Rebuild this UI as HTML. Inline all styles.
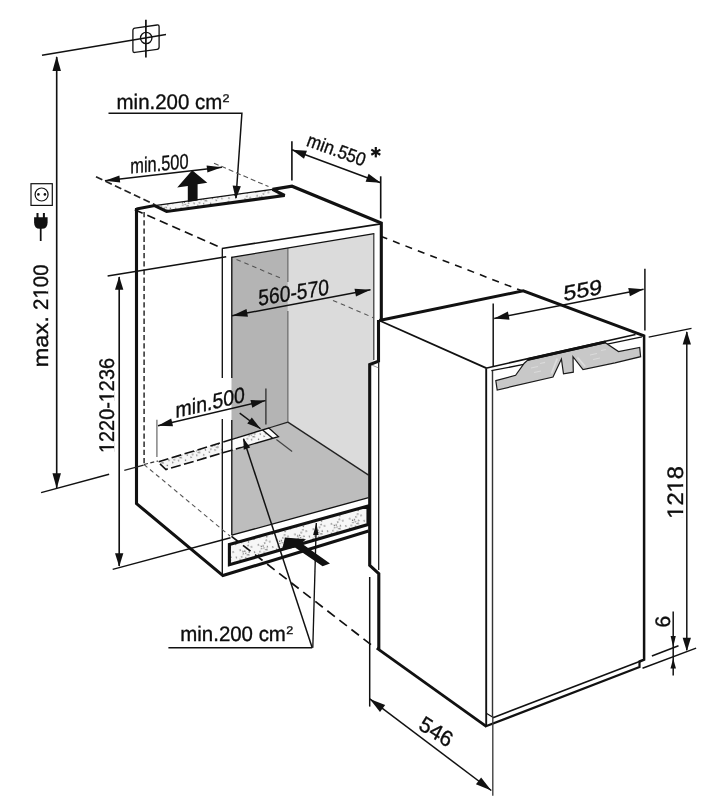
<!DOCTYPE html>
<html><head><meta charset="utf-8"><title>Niche dimensions</title>
<style>html,body{margin:0;padding:0;background:#fff}svg{display:block}text{font-family:"Liberation Sans",sans-serif;fill:#0d0d0d;stroke:#0d0d0d;stroke-width:0.35px;text-rendering:geometricPrecision}svg{will-change:transform;filter:blur(0.45px)}</style>
</head><body>
<svg width="706" height="809" viewBox="0 0 706 809">
<rect width="706" height="809" fill="#fff"/>
<polygon points="231.50,257.40 287.90,248.00 287.90,422.10 231.50,439.30" fill="#b4b4b4" stroke="none" stroke-width="0"/>
<polygon points="287.90,248.00 373.60,233.80 373.60,361.00 368.60,364.50 368.60,475.10 287.90,422.10" fill="#dbdbdb" stroke="none" stroke-width="0"/>
<polygon points="231.80,439.30 287.90,422.10 368.60,475.10 368.60,497.60 231.80,535.20" fill="#bdbdbd" stroke="none" stroke-width="0"/>
<line x1="287.9" y1="248" x2="287.9" y2="282" stroke="#555" stroke-width="1.013" stroke-linecap="butt"/>
<line x1="287.9" y1="311" x2="287.9" y2="422.1" stroke="#555" stroke-width="1.013" stroke-linecap="butt"/>
<line x1="287.9" y1="422.1" x2="368.6" y2="475.1" stroke="#222" stroke-width="1.35" stroke-linecap="butt"/>
<defs><pattern id="st" width="19" height="16" patternUnits="userSpaceOnUse" patternTransform="rotate(-16)"><rect width="19" height="16" fill="#f7f7f7"/><circle cx="0.6" cy="12.2" r="0.68" fill="#505050"/><circle cx="2.9" cy="9.9" r="0.68" fill="#505050"/><circle cx="5.2" cy="7.6" r="0.68" fill="#505050"/><circle cx="7.5" cy="5.3" r="0.68" fill="#505050"/><circle cx="9.8" cy="3.0" r="0.68" fill="#505050"/><circle cx="12.1" cy="0.7" r="0.68" fill="#505050"/><circle cx="6.7" cy="11.9" r="0.68" fill="#505050"/><circle cx="9.0" cy="9.6" r="0.68" fill="#505050"/><circle cx="11.3" cy="7.3" r="0.68" fill="#505050"/><circle cx="3.2" cy="3.0" r="0.68" fill="#505050"/><circle cx="5.5" cy="5.3" r="0.68" fill="#505050"/><circle cx="7.8" cy="7.6" r="0.68" fill="#505050"/><circle cx="10.1" cy="9.9" r="0.68" fill="#505050"/><circle cx="15.0" cy="3.0" r="0.68" fill="#505050"/><circle cx="16.5" cy="9.0" r="0.68" fill="#505050"/><circle cx="13.5" cy="13.5" r="0.68" fill="#505050"/></pattern></defs>
<polygon points="158.00,462.00 268.80,428.00 278.40,436.60 166.00,469.50" fill="url(#st)" stroke="none" stroke-width="0"/>
<polygon points="262.60,429.90 268.80,428.00 278.40,436.60 272.60,438.30" fill="#fdfdfd" stroke="none" stroke-width="0"/>
<polygon points="222.90,442.10 243.10,435.80 249.40,445.30 222.90,453.10" fill="#fcfcfc" stroke="none" stroke-width="0"/>
<path d="M232.81021897810217,439.04379562043795 L158,462 L166,469.5 L240.9333333333333,447.56666666666666" stroke="#111" stroke-width="1.6" fill="none" stroke-linejoin="miter" stroke-linecap="butt" stroke-dasharray="10 3.5"/>
<path d="M232.81021897810217,439.04379562043795 L268.8,428 L278.4,436.6 L240.9333333333333,447.56666666666666" stroke="#111" stroke-width="1.35" fill="none" stroke-linejoin="miter" stroke-linecap="butt"/>
<line x1="262.6" y1="429.9" x2="272.6" y2="438.3" stroke="#111" stroke-width="1.35" stroke-linecap="butt"/>
<line x1="268.8" y1="428" x2="287.9" y2="422.1" stroke="#222" stroke-width="1.282" stroke-linecap="butt"/>
<polygon points="154.60,205.60 272.60,189.40 284.60,195.50 166.60,211.50" fill="url(#st)" stroke="none" stroke-width="0"/>
<line x1="154.6" y1="205.6" x2="272.6" y2="189.4" stroke="#111" stroke-width="1.35" stroke-linecap="butt"/>
<polygon points="229.40,544.40 368.00,506.00 368.00,524.60 229.40,564.80" fill="url(#st)" stroke="#111" stroke-width="3.1"/>
<path d="M136.5,209 L154.6,205.6 L166.6,211.5 L284.6,195.5 L272.6,189.4 L292,186.2 L381.3,223 L381.3,320" stroke="#111" stroke-width="3.1" fill="none" stroke-linejoin="miter" stroke-miterlimit="3"/>
<line x1="380.8" y1="223.8" x2="221.9" y2="248.5" stroke="#111" stroke-width="1.688" stroke-linecap="butt"/>
<path d="M136.5,208 L136.5,503.6 L222.9,575.6 L368.5,531" stroke="#111" stroke-width="3.1" fill="none" stroke-linejoin="miter" stroke-linecap="butt"/>
<line x1="134.8" y1="209.7" x2="218.5" y2="246.7" stroke="#111" stroke-width="1.7" stroke-dasharray="8.6 5.06"/>
<line x1="222.3" y1="248.6" x2="222.3" y2="378" stroke="#111" stroke-width="1.35" stroke-linecap="butt"/>
<line x1="222.3" y1="419" x2="222.3" y2="574.5" stroke="#111" stroke-width="1.35" stroke-linecap="butt"/>
<line x1="231.6" y1="257.4" x2="374.2" y2="233.7" stroke="#111" stroke-width="1.35" stroke-linecap="butt"/>
<line x1="231.8" y1="256.7" x2="231.8" y2="378" stroke="#111" stroke-width="1.35" stroke-linecap="butt"/>
<line x1="231.8" y1="420" x2="231.8" y2="535.2" stroke="#111" stroke-width="1.35" stroke-linecap="butt"/>
<line x1="373.8" y1="233.2" x2="373.8" y2="360" stroke="#333" stroke-width="1.215" stroke-linecap="butt"/>
<line x1="231.8" y1="535.2" x2="368.6" y2="497.6" stroke="#111" stroke-width="1.35" stroke-linecap="butt"/>
<line x1="144.1" y1="212" x2="144.1" y2="464" stroke="#3a3a3a" stroke-width="1.62" stroke-linecap="butt" stroke-dasharray="5.3 2.9"/>
<line x1="236.5" y1="259.5" x2="283" y2="279" stroke="#555" stroke-width="1.08" stroke-linecap="butt" stroke-dasharray="4.6 3.9"/>
<line x1="333" y1="300.4" x2="374" y2="318" stroke="#555" stroke-width="1.08" stroke-linecap="butt" stroke-dasharray="4.6 3.9"/>
<line x1="144" y1="464.5" x2="230" y2="536" stroke="#555" stroke-width="1.08" stroke-linecap="butt" stroke-dasharray="4.4 3.4"/>
<line x1="124.3" y1="470.4" x2="143.6" y2="465.2" stroke="#222" stroke-width="1.282" stroke-linecap="butt"/>
<line x1="144" y1="464.5" x2="158" y2="461" stroke="#333" stroke-width="1.215" stroke-linecap="butt" stroke-dasharray="4 2.5"/>
<line x1="380.6" y1="236.3" x2="522.6" y2="291.1" stroke="#111" stroke-width="1.6" stroke-dasharray="7.1 6.2"/>
<line x1="231.5" y1="536.4" x2="371.6" y2="645.1" stroke="#111" stroke-width="1.7" stroke-dasharray="9.5 5.75" stroke-dashoffset="0.7"/>
<path d="M379.3,320.5 L523.2,290.8 L644.2,335.9" stroke="#111" stroke-width="2.9" fill="none" stroke-linejoin="miter" stroke-linecap="butt"/>
<path d="M644.1,334.8 L644.1,659.7 L639.5,661.5" stroke="#111" stroke-width="2.5" fill="none" stroke-linejoin="miter" stroke-linecap="butt"/>
<path d="M639.5,660.5 L639.5,667 L485.8,726.3" stroke="#111" stroke-width="2.2" fill="none" stroke-linejoin="miter" stroke-linecap="butt"/>
<path d="M486.6,726.6 L376.8,648.2" stroke="#111" stroke-width="2.8" fill="none" stroke-linejoin="miter" stroke-linecap="butt"/>
<path d="M378.5,320 L378.5,361.3 L369.7,364.6 L369.7,565.4 L378.8,573.7 L378.8,649" stroke="#111" stroke-width="3.1" fill="none" stroke-linejoin="miter" stroke-linecap="butt"/>
<line x1="379.3" y1="320.5" x2="486.9" y2="368.4" stroke="#111" stroke-width="1.755" stroke-linecap="butt"/>
<line x1="378.7" y1="362.7" x2="378.7" y2="570" stroke="#111" stroke-width="1.215" stroke-linecap="butt"/>
<line x1="372.2" y1="365.2" x2="378.5" y2="367.9" stroke="#666" stroke-width="0.675" stroke-linecap="butt"/>
<line x1="369.7" y1="577" x2="369.7" y2="706.6" stroke="#111" stroke-width="1.485" stroke-linecap="butt"/>
<line x1="486.2" y1="368.4" x2="486.2" y2="726" stroke="#111" stroke-width="1.89" stroke-linecap="butt"/>
<line x1="492.5" y1="370.5" x2="492.5" y2="716" stroke="#333" stroke-width="1.418" stroke-linecap="butt"/>
<line x1="486.9" y1="367.9" x2="635.5" y2="334.4" stroke="#111" stroke-width="1.5"/>
<line x1="491.4" y1="370.7" x2="525" y2="364.2" stroke="#111" stroke-width="1.282" stroke-linecap="butt"/>
<line x1="606" y1="344.4" x2="642" y2="336.8" stroke="#111" stroke-width="1.282" stroke-linecap="butt"/>
<line x1="639.5" y1="661.5" x2="493" y2="717.7" stroke="#111" stroke-width="1.62" stroke-linecap="butt"/>
<line x1="486.3" y1="713.2" x2="492.9" y2="717.2" stroke="#111" stroke-width="1.215" stroke-linecap="butt"/>
<polygon points="495.80,380.60 515.60,375.30 524.30,363.20 527.50,360.20 605.30,342.70 618.50,351.60 639.70,347.40 640.60,356.70 615.00,362.80 583.00,369.60 573.00,356.70 573.30,372.20 563.50,373.90 561.40,359.00 553.00,377.00 497.20,390.00" fill="#c8c8c8" stroke="#1a1a1a" stroke-width="1.2"/>
<line x1="557.2" y1="358.5" x2="551.5" y2="373.5" stroke="#dcdcdc" stroke-width="1.755" stroke-linecap="butt"/>
<line x1="577.5" y1="357.5" x2="585.2" y2="366.5" stroke="#dcdcdc" stroke-width="1.755" stroke-linecap="butt"/>
<path d="M531,368 L538,366.5 M534,372.5 L541,371 M540,363.5 L545,362.4" stroke="#dadada" stroke-width="1.215" fill="none" stroke-linejoin="miter" stroke-linecap="butt"/>
<path d="M590,355 L597,353.5 M593,359.5 L600,358 M601,350.5 L606,349.5" stroke="#dadada" stroke-width="1.215" fill="none" stroke-linejoin="miter" stroke-linecap="butt"/>
<line x1="527.2" y1="359.6" x2="605.6" y2="341.9" stroke="#111" stroke-width="2.9" stroke-linecap="butt"/>
<line x1="42" y1="55.3" x2="166" y2="34.5" stroke="#111" stroke-width="1.485" stroke-linecap="butt"/>
<line x1="145.9" y1="19.8" x2="145.9" y2="57.6" stroke="#111" stroke-width="1.7" stroke-linecap="butt"/>
<g transform="matrix(1,-0.144,0,1,0,0)"><rect x="132.9" y="47.6" width="26.2" height="24.3" rx="2" ry="2" fill="none" stroke="#111" stroke-width="1.3"/></g>
<circle cx="146.2" cy="38" r="5.7" fill="none" stroke="#111" stroke-width="1.3"/>
<line x1="56.7" y1="57" x2="56.7" y2="488" stroke="#111" stroke-width="1.62" stroke-linecap="butt"/>
<polygon points="56.70,55.90 60.95,71.10 52.45,71.10" fill="#111" stroke="none" stroke-width="0"/>
<polygon points="56.70,488.50 52.45,473.30 60.95,473.30" fill="#111" stroke="none" stroke-width="0"/>
<line x1="41.1" y1="492.6" x2="109.1" y2="474.2" stroke="#111" stroke-width="1.485" stroke-linecap="butt"/>
<rect x="31" y="183.7" width="21.3" height="21.7" fill="none" stroke="#111" stroke-width="1.2"/>
<circle cx="41.6" cy="194.5" r="6.5" fill="none" stroke="#111" stroke-width="1.2"/>
<circle cx="38.4" cy="194.4" r="1.3" fill="#111"/><circle cx="44.9" cy="194.4" r="1.3" fill="#111"/>
<line x1="37.5" y1="213" x2="37.5" y2="218" stroke="#111" stroke-width="2.025" stroke-linecap="butt"/>
<line x1="43.9" y1="213" x2="43.9" y2="218" stroke="#111" stroke-width="2.025" stroke-linecap="butt"/>
<path d="M34.1,217.3 L47.6,217.3 L47.6,222.5 Q47.6,228.8 41.8,228.8 L39.9,228.8 Q34.1,228.8 34.1,222.5 Z" stroke="none" stroke-width="0" fill="#111" stroke-linejoin="miter" stroke-linecap="butt"/>
<line x1="40.7" y1="228" x2="40.7" y2="241" stroke="#111" stroke-width="1.755" stroke-linecap="butt"/>
<text transform="matrix(6.123233995736766e-17,-1.0,1.0,6.123233995736766e-17,48.2,367.6)" font-size="21" font-weight="normal" textLength="51.5" lengthAdjust="spacingAndGlyphs">max.</text>
<text transform="matrix(6.123233995736766e-17,-1.0,1.0,6.123233995736766e-17,48.2,310)" font-size="21" font-weight="normal" textLength="45.6" lengthAdjust="spacingAndGlyphs">2100</text>
<g transform="matrix(6.123233995736766e-17,-1.0,1.0,6.123233995736766e-17,48.2,310)" fill="#fff"><rect x="12.22" y="-2.25" width="4.16" height="2.70"/><rect x="18.54" y="-2.25" width="3.90" height="2.70"/></g>
<text transform="translate(116.6,108.8)" font-size="21" font-weight="normal" textLength="105.6" lengthAdjust="spacingAndGlyphs">min.200 cm</text>
<text transform="translate(222.6,101.7)" font-size="11.2" font-weight="normal" textLength="7" lengthAdjust="spacingAndGlyphs">2</text>
<path d="M108.5,113.3 L241.9,113.3 L236,198" stroke="#111" stroke-width="1.485" fill="none" stroke-linejoin="miter" stroke-linecap="butt"/>
<polygon points="235.80,199.30 232.62,185.54 240.89,186.13" fill="#111" stroke="none" stroke-width="0"/>
<line x1="104.9" y1="180.7" x2="221.9" y2="167.2" stroke="#111" stroke-width="1.485" stroke-linecap="butt"/>
<polygon points="104.90,180.70 119.40,175.50 120.20,182.46" fill="#111" stroke="none" stroke-width="0"/>
<polygon points="221.90,167.20 207.40,172.40 206.60,165.44" fill="#111" stroke="none" stroke-width="0"/>
<text transform="matrix(1.0,-0.09100712926493951,0,1,130.3,173.6)" font-size="21.4" font-weight="normal" textLength="58.2" lengthAdjust="spacingAndGlyphs">min.500</text>
<line x1="96" y1="176.7" x2="154.5" y2="204.5" stroke="#222" stroke-width="1.755" stroke-linecap="butt" stroke-dasharray="7 3.5"/>
<line x1="214" y1="163.2" x2="268.5" y2="186.6" stroke="#555" stroke-width="1.08" stroke-linecap="butt" stroke-dasharray="5 3"/>
<polygon points="192.20,170.20 207.30,182.70 197.60,184.30 197.60,200.60 187.80,202.00 187.80,185.90 177.20,187.60" fill="#111" stroke="none" stroke-width="0"/>
<line x1="291.9" y1="141.2" x2="291.9" y2="180.5" stroke="#111" stroke-width="1.62" stroke-linecap="butt"/>
<line x1="380.7" y1="176.3" x2="380.7" y2="218.5" stroke="#111" stroke-width="1.62" stroke-linecap="butt"/>
<line x1="291.9" y1="149.7" x2="380.7" y2="182.7" stroke="#111" stroke-width="1.485" stroke-linecap="butt"/>
<polygon points="291.90,149.70 306.97,150.77 304.01,158.73" fill="#111" stroke="none" stroke-width="0"/>
<polygon points="380.70,182.70 365.63,181.63 368.59,173.67" fill="#111" stroke="none" stroke-width="0"/>
<text transform="matrix(0.9396926207859084,0.3420201433256687,-0.3420201433256687,0.9396926207859084,305.6,145.6)" font-size="19" font-weight="normal" textLength="61.2" lengthAdjust="spacingAndGlyphs">min.550</text>
<line x1="375.8" y1="147.0" x2="375.8" y2="157.39999999999998" stroke="#111" stroke-width="2.2" stroke-linecap="butt"/>
<line x1="371.2966679003209" y1="149.6" x2="380.3033320996791" y2="154.79999999999998" stroke="#111" stroke-width="2.2" stroke-linecap="butt"/>
<line x1="380.3033320996791" y1="149.6" x2="371.2966679003209" y2="154.79999999999998" stroke="#111" stroke-width="2.2" stroke-linecap="butt"/>
<line x1="119.2" y1="277" x2="119.2" y2="566" stroke="#111" stroke-width="1.62" stroke-linecap="butt"/>
<polygon points="119.20,276.30 123.35,289.80 115.05,289.80" fill="#111" stroke="none" stroke-width="0"/>
<polygon points="119.20,566.80 115.05,553.30 123.35,553.30" fill="#111" stroke="none" stroke-width="0"/>
<line x1="107.6" y1="276" x2="226.2" y2="256.7" stroke="#111" stroke-width="1.485" stroke-linecap="butt"/>
<line x1="112.7" y1="569.4" x2="230.5" y2="537.7" stroke="#111" stroke-width="1.485" stroke-linecap="butt"/>
<text transform="matrix(6.123233995736766e-17,-1.0,1.0,6.123233995736766e-17,113.9,453)" font-size="21.2" font-weight="normal" textLength="95" lengthAdjust="spacingAndGlyphs">1220-1236</text>
<g transform="matrix(6.123233995736766e-17,-1.0,1.0,6.123233995736766e-17,113.9,453)" fill="#fff"><rect x="0.79" y="-2.26" width="4.03" height="2.71"/><rect x="6.91" y="-2.26" width="3.78" height="2.71"/><rect x="51.60" y="-2.26" width="4.03" height="2.71"/><rect x="57.72" y="-2.26" width="3.78" height="2.71"/></g>
<line x1="232" y1="315.8" x2="370.5" y2="289.7" stroke="#111" stroke-width="1.485" stroke-linecap="butt"/>
<polygon points="232.00,315.80 246.49,309.00 247.97,316.86" fill="#111" stroke="none" stroke-width="0"/>
<polygon points="370.50,289.70 356.01,296.50 354.53,288.64" fill="#111" stroke="none" stroke-width="0"/>
<text transform="matrix(1.0,-0.15838444032453627,0,1,258.3,305.8)" font-size="22.4" font-weight="normal" textLength="70.6" lengthAdjust="spacingAndGlyphs">560-570</text>
<line x1="156.9" y1="419.7" x2="156.9" y2="457" stroke="#777" stroke-width="1.35" stroke-linecap="butt"/>
<line x1="265.9" y1="388.4" x2="265.9" y2="424.5" stroke="#333" stroke-width="1.35" stroke-linecap="butt"/>
<line x1="158" y1="425.7" x2="265.5" y2="400.6" stroke="#111" stroke-width="1.485" stroke-linecap="butt"/>
<polygon points="158.00,425.70 171.21,418.51 173.03,426.30" fill="#111" stroke="none" stroke-width="0"/>
<polygon points="265.50,400.60 252.29,407.79 250.47,400.00" fill="#111" stroke="none" stroke-width="0"/>
<text transform="matrix(1.0,-0.23454788249494937,0,1,175.6,418)" font-size="21.8" font-weight="normal" textLength="69.3" lengthAdjust="spacingAndGlyphs">min.500</text>
<line x1="239.7" y1="413.1" x2="260.5" y2="428.8" stroke="#111" stroke-width="1.35" stroke-linecap="butt"/>
<polygon points="260.70,429.00 247.24,423.58 251.83,417.52" fill="#111" stroke="none" stroke-width="0"/>
<line x1="276.4" y1="439.6" x2="292.1" y2="451.6" stroke="#444" stroke-width="1.215" stroke-linecap="butt"/>
<text transform="translate(180.3,640.8)" font-size="20.9" font-weight="normal" textLength="105.6" lengthAdjust="spacingAndGlyphs">min.200 cm</text>
<text transform="translate(286.3,633.8)" font-size="11.2" font-weight="normal" textLength="7" lengthAdjust="spacingAndGlyphs">2</text>
<path d="M168.4,647.7 L312.2,647.7" stroke="#111" stroke-width="1.485" fill="none" stroke-linejoin="miter" stroke-linecap="butt"/>
<line x1="312.2" y1="647.7" x2="243.5" y2="438.8" stroke="#111" stroke-width="1.485" stroke-linecap="butt"/>
<polygon points="243.30,438.20 250.16,447.45 243.74,449.70" fill="#111" stroke="none" stroke-width="0"/>
<line x1="312.8" y1="647.7" x2="316.3" y2="523" stroke="#111" stroke-width="1.35" stroke-linecap="butt"/>
<polygon points="316.30,523.00 318.60,535.09 313.10,534.89" fill="#111" stroke="none" stroke-width="0"/>
<polygon points="284.90,537.40 306.00,539.20 301.40,543.30 330.00,563.50 322.60,566.30 295.00,547.50 282.10,550.10" fill="#111" stroke="none" stroke-width="0"/>
<line x1="493.2" y1="303.6" x2="493.2" y2="367" stroke="#111" stroke-width="1.485" stroke-linecap="butt"/>
<line x1="644.9" y1="268.7" x2="644.9" y2="330.5" stroke="#111" stroke-width="1.485" stroke-linecap="butt"/>
<line x1="494.2" y1="318.4" x2="643.6" y2="289.3" stroke="#111" stroke-width="1.485" stroke-linecap="butt"/>
<polygon points="494.20,318.40 507.92,311.45 509.53,319.69" fill="#111" stroke="none" stroke-width="0"/>
<polygon points="643.60,289.30 629.88,296.25 628.27,288.01" fill="#111" stroke="none" stroke-width="0"/>
<text transform="matrix(1.0,-0.17992839927925947,0,1,563.6,300.9)" font-size="21.4" font-weight="normal" textLength="38.6" lengthAdjust="spacingAndGlyphs">559</text>
<line x1="648.7" y1="337.1" x2="691.5" y2="328.4" stroke="#111" stroke-width="1.35" stroke-linecap="butt"/>
<line x1="686.8" y1="332" x2="686.8" y2="650" stroke="#111" stroke-width="1.485" stroke-linecap="butt"/>
<polygon points="686.80,331.00 690.95,344.50 682.65,344.50" fill="#111" stroke="none" stroke-width="0"/>
<polygon points="686.80,651.20 682.65,637.70 690.95,637.70" fill="#111" stroke="none" stroke-width="0"/>
<text transform="matrix(6.123233995736766e-17,-1.0,1.0,6.123233995736766e-17,683.4,518.8)" font-size="22.4" font-weight="normal" textLength="52.8" lengthAdjust="spacingAndGlyphs">1218</text>
<g transform="matrix(6.123233995736766e-17,-1.0,1.0,6.123233995736766e-17,683.4,518.8)" fill="#fff"><rect x="0.95" y="-2.38" width="4.82" height="2.83"/><rect x="8.26" y="-2.38" width="4.51" height="2.83"/><rect x="27.35" y="-2.38" width="4.82" height="2.83"/><rect x="34.66" y="-2.38" width="4.51" height="2.83"/></g>
<line x1="673.2" y1="611.6" x2="673.2" y2="675.5" stroke="#111" stroke-width="1.485" stroke-linecap="butt"/>
<polygon points="673.20,646.90 670.60,635.90 675.80,635.90" fill="#111" stroke="none" stroke-width="0"/>
<polygon points="673.20,658.50 675.95,668.50 670.45,668.50" fill="#111" stroke="none" stroke-width="0"/>
<line x1="651.9" y1="656" x2="678.5" y2="645.7" stroke="#111" stroke-width="1.485" stroke-linecap="butt"/>
<line x1="642.5" y1="668.2" x2="696.1" y2="648.1" stroke="#111" stroke-width="1.485" stroke-linecap="butt"/>
<text transform="matrix(6.123233995736766e-17,-1.0,1.0,6.123233995736766e-17,670.2,627.6)" font-size="21" font-weight="normal">6</text>
<line x1="492.8" y1="716" x2="492.8" y2="795.8" stroke="#3a3a3a" stroke-width="1.35" stroke-linecap="butt"/>
<line x1="369.8" y1="698.9" x2="491.3" y2="790.5" stroke="#111" stroke-width="1.485" stroke-linecap="butt"/>
<polygon points="369.80,698.90 385.16,705.10 379.99,711.97" fill="#111" stroke="none" stroke-width="0"/>
<polygon points="491.30,790.50 475.94,784.30 481.11,777.43" fill="#111" stroke="none" stroke-width="0"/>
<text transform="matrix(0.839,0.545,-0.469,0.883,417.6,728.4)" font-size="21.8" font-weight="normal" textLength="36" lengthAdjust="spacingAndGlyphs">546</text>
</svg>
</body></html>
